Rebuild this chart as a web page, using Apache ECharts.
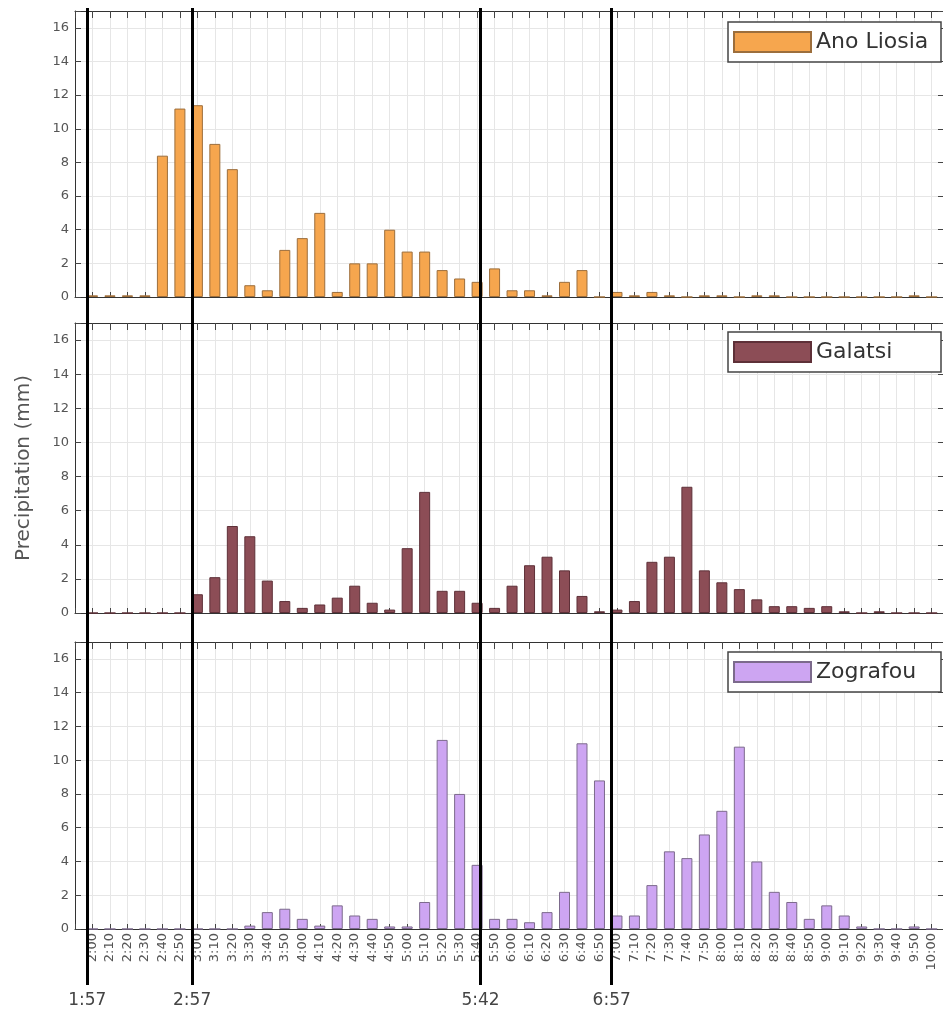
<!DOCTYPE html>
<html><head><meta charset="utf-8">
<script src="https://cdn.jsdelivr.net/npm/echarts@6/dist/echarts.min.js"></script>
<style>html,body{margin:0;padding:0;background:#fff}#c{width:943px;height:1014px}</style>
</head><body><div id="c"></div>
<script>
const categories = ['2:00','2:10','2:20','2:30','2:40','2:50','3:00','3:10','3:20','3:30','3:40','3:50',
  '4:00','4:10','4:20','4:30','4:40','4:50','5:00','5:10','5:20','5:30','5:40','5:50',
  '6:00','6:10','6:20','6:30','6:40','6:50','7:00','7:10','7:20','7:30','7:40','7:50',
  '8:00','8:10','8:20','8:30','8:40','8:50','9:00','9:10','9:20','9:30','9:40','9:50','10:00'];
const anoLiosia = [0.1,0.1,0.1,0.1,8.4,11.2,11.4,9.1,7.6,0.7,0.4,2.8,
  3.5,5.0,0.3,2.0,2.0,4.0,2.7,2.7,1.6,1.1,0.9,1.7,
  0.4,0.4,0.1,0.9,1.6,0,0.3,0.1,0.3,0.1,0,0.1,
  0.1,0,0.1,0.1,0,0,0,0,0,0,0,0.1,0];
const galatsi = [0,0,0,0,0,0,1.1,2.1,5.1,4.5,1.9,0.7,
  0.3,0.5,0.9,1.6,0.6,0.2,3.8,7.1,1.3,1.3,0.6,0.3,
  1.6,2.8,3.3,2.5,1.0,0.1,0.2,0.7,3.0,3.3,7.4,2.5,
  1.8,1.4,0.8,0.4,0.4,0.3,0.4,0.1,0,0.1,0,0,0];
const zografou = [0,0,0,0,0,0,0,0,0,0.2,1.0,1.2,
  0.6,0.2,1.4,0.8,0.6,0.15,0.15,1.6,11.2,8.0,3.8,0.6,
  0.6,0.4,1.0,2.2,11.0,8.8,0.8,0.8,2.6,4.6,4.2,5.6,
  7.0,10.8,4.0,2.2,1.6,0.6,1.4,0.8,0.15,0,0,0.15,0];
const stations = ['Ano Liosia','Galatsi','Zografou'];
const eventTimes = ['1:57','2:57','5:42','6:57'];
const yTickLabels = [0,2,4,6,8,10,12,14,16];

const toMin = t => { const p = t.split(':').map(Number); return p[0]*60 + p[1]; };
const base = toMin(categories[0]);
const toIdx = t => (toMin(t) - base) / 10;

const X_MIN = -1, X_MAX = 48.65, Y_MAX = 17;
const FONT = 'DejaVu Sans';
const panels = [
  {top: 11, height: 286, data: anoLiosia, color: '#F6A64E', border: '#9C6E3C'},
  {top: 323, height: 290, data: galatsi, color: '#8C4D56', border: '#5E3038'},
  {top: 642, height: 287, data: zografou, color: '#CDA5F2', border: '#7C6A8C'}
];
const legendTops = [22, 332, 652];

const grid = [], xAxis = [], yAxis = [], series = [], legend = [];
panels.forEach((p, k) => {
  grid.push({left: 75, right: -1, top: p.top, height: p.height});
  xAxis.push({
    gridIndex: k, type: 'value', min: X_MIN, max: X_MAX, interval: 1, position: 'bottom',
    axisLine: {show: true, onZero: false, lineStyle: {color: '#333'}},
    axisTick: {show: true, inside: true, length: 5, lineStyle: {color: '#444'}},
    axisLabel: k === 2 ? {
      show: true, rotate: 90, margin: 4, color: '#555', fontSize: 13, fontFamily: FONT,
      formatter: v => { const r = Math.round(v); return (Math.abs(v - r) < 1e-6 && r >= 0 && r < categories.length) ? categories[r] : ''; }
    } : {show: false},
    splitLine: {show: true, lineStyle: {color: '#e6e6e6', width: 1}}
  });
  xAxis.push({
    gridIndex: k, type: 'value', min: X_MIN, max: X_MAX, interval: 1, position: 'top',
    axisLine: {show: true, onZero: false, lineStyle: {color: '#333'}},
    axisTick: {show: true, inside: true, length: 7, lineStyle: {color: '#444'}},
    axisLabel: {show: false}, splitLine: {show: false}
  });
  yAxis.push({
    gridIndex: k, type: 'value', min: 0, max: Y_MAX, interval: 2, position: 'left',
    axisLine: {show: true, onZero: false, lineStyle: {color: '#333'}},
    axisTick: {show: true, inside: true, length: 6, lineStyle: {color: '#444'}},
    axisLabel: {color: '#555', fontSize: 13, fontFamily: FONT, margin: 6,
      formatter: v => yTickLabels.indexOf(v) >= 0 ? String(v) : ''},
    splitLine: {show: true, lineStyle: {color: '#e6e6e6'}},
    name: k === 1 ? 'Precipitation (mm)' : '', nameLocation: 'middle', nameGap: 41,
    nameTextStyle: {fontSize: 20, color: '#555', fontFamily: FONT}
  });
  yAxis.push({
    gridIndex: k, type: 'value', min: 0, max: Y_MAX, interval: 2, position: 'right',
    axisLine: {show: true, onZero: false, lineStyle: {color: '#333'}},
    axisTick: {show: true, inside: true, length: 5, lineStyle: {color: '#444'}},
    axisLabel: {show: false}, splitLine: {show: false}
  });
  series.push({
    type: 'bar', name: stations[k], xAxisIndex: 2 * k, yAxisIndex: 2 * k,
    data: categories.map((c, i) => [i, p.data[i]]), barWidth: 11,
    itemStyle: {color: p.color, borderColor: p.border, borderWidth: 1}
  });
  legend.push({
    data: [stations[k]], left: 728, top: legendTops[k], icon: 'rect',
    itemWidth: 77, itemHeight: 20, padding: [9, 7, 9, 5],
    borderColor: '#444', borderWidth: 1.5, backgroundColor: '#fff', selectedMode: false,
    textStyle: {fontSize: 22, lineHeight: 22, color: '#333', fontFamily: FONT, width: 118}
  });
});
// overlay grid for the event lines
grid.push({left: 75, right: -1, top: 8, bottom: 29});
xAxis.push({gridIndex: 3, type: 'value', min: X_MIN, max: X_MAX, show: false});
yAxis.push({gridIndex: 3, type: 'value', min: 0, max: 1, show: false});
series.push({
  type: 'line', xAxisIndex: 6, yAxisIndex: 6, data: [], symbol: 'none', silent: true, z: 10,
  markLine: {
    symbol: 'none', silent: true,
    lineStyle: {color: '#000', width: 3, type: 'solid'},
    label: {position: 'start', distance: 7, color: '#444', fontSize: 17, fontFamily: FONT},
    data: eventTimes.map(t => ({xAxis: toIdx(t), label: {formatter: t}}))
  }
});

const chart = echarts.init(document.getElementById('c'));
chart.setOption({animation: false, backgroundColor: '#fff', grid, xAxis, yAxis, series, legend});
</script></body></html>
